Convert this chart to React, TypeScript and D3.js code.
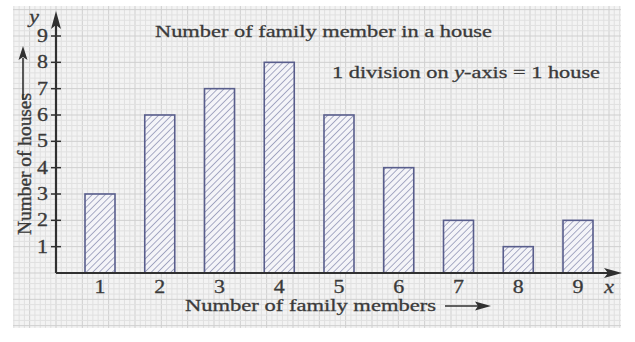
import React from "react";
import * as d3 from "d3";

const members = [1, 2, 3, 4, 5, 6, 7, 8, 9];
const houses = [3, 6, 7, 8, 6, 4, 2, 1, 2];
const yTicks = [1, 2, 3, 4, 5, 6, 7, 8, 9];
const titleText = "Number of family member in a house";
const xLabel = "Number of family members";
const yLabel = "Number of houses";

const W = 635;
const H = 342;
const FONT = "'Liberation Serif', 'Times New Roman', Times, serif";
const TXT = "#3a3a3a";
const AX = "#303030";

export default function App() {
  const x = d3.scaleLinear().domain([1, 9]).range([100, 578]);
  const y = d3.scaleLinear().domain([0, 9]).range([273, 36]);
  const x0 = 56;
  const y0 = y(0);
  const unit = y(0) - y(1);
  const minor = unit / 5;
  const paper = { x1: 13, y1: 6, x2: 621, y2: 328 };
  const barW = 30;

  const vLines: { v: number; major: boolean }[] = [];
  for (let k = -40; k < 200; k++) {
    const v = x0 + k * minor;
    if (v >= paper.x1 && v <= paper.x2) vLines.push({ v, major: k % 5 === 0 });
  }
  const hLines: { v: number; major: boolean }[] = [];
  for (let k = -40; k < 200; k++) {
    const v = y0 - k * minor;
    if (v >= paper.y1 && v <= paper.y2) hLines.push({ v, major: k % 5 === 0 });
  }

  const sx = 1.22;
  const fs = { fontFamily: FONT };
  const thick = { stroke: TXT, strokeWidth: 0.3 };
  const Digit = ({ cx, cy, t, anchor = "middle", italic = false }: any) => (
    <text
      transform={`translate(${cx},${cy}) scale(${sx},1)`}
      textAnchor={anchor}
      style={fs}
      fontSize={18}
      fontStyle={italic ? "italic" : "normal"}
      fill={TXT}
      {...thick}
    >
      {t}
    </text>
  );

  return (
    <svg width={W} height={H} style={{ position: "absolute", left: 0, top: 0, background: "#fff" }}>
      <defs>
        <pattern id="hatch" width={4.6} height={4.6} patternUnits="userSpaceOnUse" patternTransform="rotate(45)">
          <rect width={4.6} height={4.6} fill="#f4f4f8" />
          <line x1={0} y1={0} x2={0} y2={4.6} stroke="#7e82a8" strokeWidth={1.3} />
        </pattern>
      </defs>
      <rect x={paper.x1} y={paper.y1} width={paper.x2 - paper.x1} height={paper.y2 - paper.y1} fill="#f3f3f3" />
      {vLines.map((l, i) => (
        <line key={"v" + i} x1={l.v} x2={l.v} y1={paper.y1} y2={paper.y2} stroke={l.major ? "#cfcfcf" : "#e0e0e0"} strokeWidth={1} />
      ))}
      {hLines.map((l, i) => (
        <line key={"h" + i} y1={l.v} y2={l.v} x1={paper.x1} x2={paper.x2} stroke={l.major ? "#cfcfcf" : "#e0e0e0"} strokeWidth={1} />
      ))}

      {members.map((m, i) => (
        <rect
          key={m}
          x={x(m) - barW / 2}
          y={y(houses[i])}
          width={barW}
          height={y0 - y(houses[i])}
          fill="url(#hatch)"
          stroke="#595e8c"
          strokeWidth={1.6}
        />
      ))}

      <line x1={x0} x2={612} y1={y0} y2={y0} stroke={AX} strokeWidth={2.2} />
      <path d={`M622,${y0} L604,${y0 - 5} L608,${y0} L604,${y0 + 5} Z`} fill={AX} />
      <line x1={x0} x2={x0} y1={y0} y2={22} stroke={AX} strokeWidth={2.2} />
      <path d={`M${x0},11 L${x0 - 5},29 L${x0},25 L${x0 + 5},29 Z`} fill={AX} />

      {yTicks.map((t) => (
        <g key={t}>
          <line x1={x0 - 5} x2={x0 + 5} y1={y(t)} y2={y(t)} stroke={AX} strokeWidth={1.5} />
          <Digit cx={x0 - 8} cy={y(t) + 6} t={String(t)} anchor="end" />
        </g>
      ))}
      {members.map((m) => (
        <Digit key={m} cx={x(m)} cy={293} t={String(m)} />
      ))}
      <Digit cx={609} cy={293} t="x" italic />
      <Digit cx={34} cy={23} t="y" italic />

      <text x={155} y={37} style={fs} fontSize={17.5} fill={TXT} {...thick} textLength={337} lengthAdjust="spacingAndGlyphs">
        {titleText}
      </text>
      <text x={332} y={78} style={fs} fontSize={17.5} fill={TXT} {...thick} textLength={268} lengthAdjust="spacingAndGlyphs">
        1 division on <tspan fontStyle="italic">y</tspan>-axis = 1 house
      </text>

      <text x={185} y={311} style={fs} fontSize={17.5} fill={TXT} {...thick} textLength={251} lengthAdjust="spacingAndGlyphs">
        {xLabel}
      </text>
      <line x1={445} x2={480} y1={306} y2={306} stroke={AX} strokeWidth={1.6} />
      <path d="M491,306 L475,301.5 L478,306 L475,310.5 Z" fill={AX} />

      <text
        transform={`translate(31,${235}) scale(1.15,1) rotate(-90)`}
        style={fs}
        fontSize={16.5}
        fill={TXT}
        {...thick}
        textLength={142}
        lengthAdjust="spacingAndGlyphs"
      >
        {yLabel}
      </text>
      <line x1={23} x2={23} y1={100} y2={58} stroke={AX} strokeWidth={1.6} />
      <path d="M23,46 L18.5,60 L23,57 L27.5,60 Z" fill={AX} />
    </svg>
  );
}
